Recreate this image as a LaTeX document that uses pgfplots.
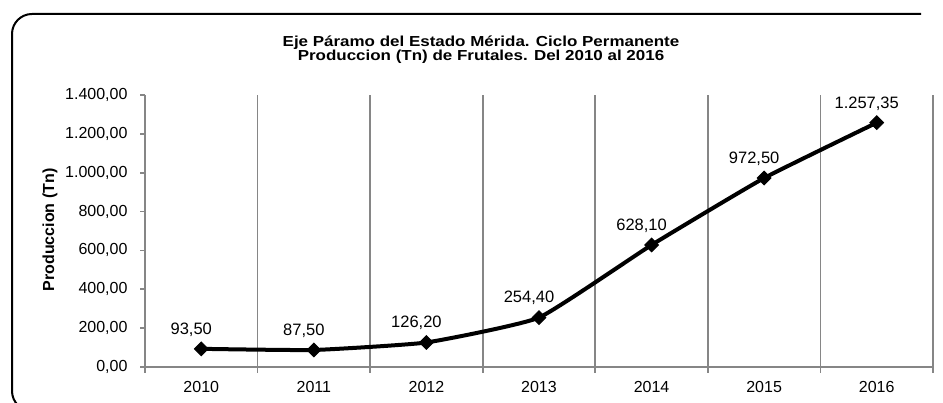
\documentclass[border=0pt]{standalone}
\usepackage{pgfplots}
\pgfplotsset{compat=1.18}
\usepackage{fontspec}
\setmainfont{Liberation Sans}
\usepackage{graphicx}
\definecolor{gridgray}{RGB}{134,134,134}

\begin{document}
\begin{tikzpicture}[x=1pt,y=1pt]
\useasboundingbox (0,0) rectangle (943,403);
\begin{scope}
  \clip (0,0) rectangle (943,403);
  \draw[line width=2pt, rounded corners=20pt] (921,389) -- (12,389) -- (12,-8) -- (60,-8);
\end{scope}
% title
\node[align=center, font=\fontsize{14.5}{14}\selectfont\bfseries] at (481,353)
  {\scalebox{1.17}[1]{Eje Páramo del Estado Mérida. Ciclo Permanente}\\
   \scalebox{1.17}[1]{Produccion (Tn) de Frutales. Del 2010 al 2016}};
\begin{axis}[
    at={(145pt,36pt)}, anchor=south west,
    scale only axis, width=788pt, height=272pt,
    xmin=-0.5, xmax=6.5, ymin=0, ymax=1400,
    axis lines*=left,
    axis line style={gridgray, line width=1.8pt},
    tick align=outside,
    major tick length=5pt, minor tick length=6pt,
    tick style={gridgray, line width=1.8pt},
    every major x tick/.append style={draw=none},
    xtick={0,...,6},
    xticklabels={2010,2011,2012,2013,2014,2015,2016},
    minor xtick={-0.5,0.5,...,6.5},
    xminorgrids,
    minor grid style={gridgray, line width=1.8pt},
    ytick={0,200,...,1400},
    yticklabels={{0,00},{200,00},{400,00},{600,00},{800,00},{1.000,00},{1.200,00},{1.400,00}},
    tick label style={font=\fontsize{16}{16}\selectfont},
    yticklabel style={xshift=-9pt},
    xticklabel style={yshift=-6pt},
    clip=false]
  \addplot[black, line width=4pt, smooth, tension=0.25, mark=square*,
      mark size=4.8pt, mark options={solid, rotate=45, line width=1pt},
      nodes near coords, point meta=explicit symbolic,
      nodes near coords style={font=\fontsize{16.5}{16.5}\selectfont, anchor=south,
        inner sep=0pt, yshift=12pt, xshift=-10pt}]
    table[x=x, y=y, meta=label] {
      x y label
      0 93.50 93,50
      1 87.50 87,50
      2 126.20 126,20
      3 254.40 254,40
      4 628.10 628,10
      5 972.50 972,50
      6 1257.35 1.257,35
    };
\end{axis}
\node[rotate=90, font=\fontsize{16}{16}\selectfont\bfseries] at (50,173) {Produccion (Tn)};
\end{tikzpicture}
\end{document}
